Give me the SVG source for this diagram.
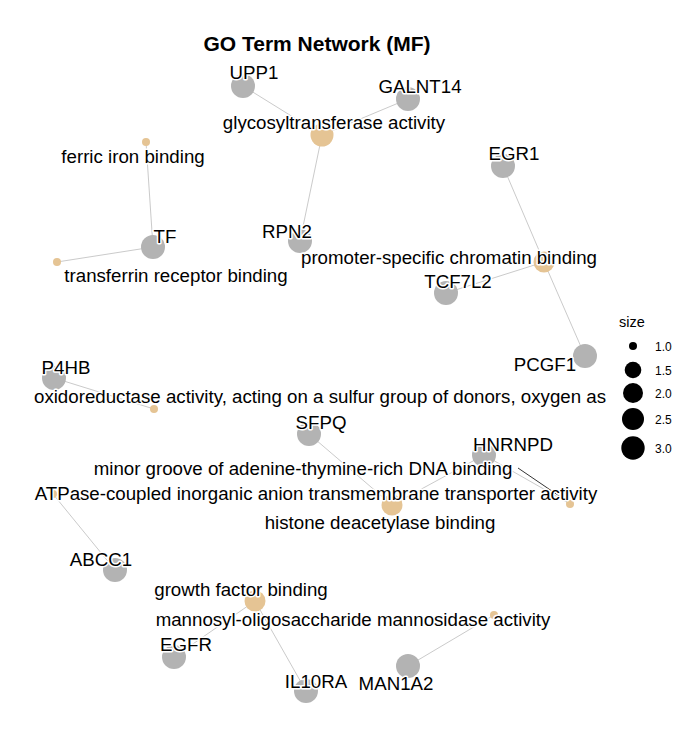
<svg xmlns="http://www.w3.org/2000/svg" width="700" height="750" viewBox="0 0 700 750">
<style>
text{font-family:"Liberation Sans",Arial,sans-serif;fill:#000}
.lbl{font-size:18.7px;text-anchor:middle;stroke:#fff;stroke-width:3px;paint-order:stroke;stroke-linejoin:round}
.gene{fill:#b3b3b3}
.term{fill:#e5c494}
.edge{stroke:#bdbdbd;stroke-width:0.8;fill:none}
.seg{stroke:#000;stroke-width:0.8}
.leg{font-size:12px}
</style>
<rect width="700" height="750" fill="#fff"/>
<text x="317" y="51" style="font-size:21px;font-weight:bold;text-anchor:middle">GO Term Network (MF)</text>
<g id="edges">
<line class="edge" x1="243" y1="86" x2="322" y2="135"/>
<line class="edge" x1="408" y1="99" x2="322" y2="135"/>
<line class="edge" x1="322" y1="135" x2="300" y2="241"/>
<line class="edge" x1="146" y1="142" x2="153" y2="247"/>
<line class="edge" x1="57" y1="262" x2="153" y2="247"/>
<line class="edge" x1="503" y1="166" x2="544" y2="262"/>
<line class="edge" x1="446" y1="293" x2="544" y2="262"/>
<line class="edge" x1="585" y1="356" x2="544" y2="262"/>
<line class="edge" x1="54" y1="378" x2="154" y2="409"/>
<line class="edge" x1="53" y1="494" x2="115" y2="570"/>
<line class="edge" x1="309" y1="434" x2="392" y2="505"/>
<line class="edge" x1="484" y1="455" x2="392" y2="505"/>
<line class="edge" x1="484" y1="455" x2="570" y2="504"/>
<line class="edge" x1="255" y1="601" x2="174" y2="657"/>
<line class="edge" x1="255" y1="601" x2="306" y2="691"/>
<line class="edge" x1="494" y1="615" x2="408" y2="666"/>
<line class="seg" x1="518" y1="468" x2="568" y2="502"/>
</g>
<g id="n-glyco"><circle class="term" cx="322" cy="135" r="11.5"/></g>
<g id="n-UPP1"><circle class="gene" cx="243" cy="86" r="12"/></g>
<g id="n-GALNT14"><circle class="gene" cx="408" cy="99" r="12"/></g>
<g id="n-RPN2"><circle class="gene" cx="300" cy="241" r="12"/></g>
<g id="n-ferric"><circle class="term" cx="146" cy="142" r="4"/></g>
<g id="n-transferrin"><circle class="term" cx="57" cy="262" r="4"/></g>
<g id="n-TF"><circle class="gene" cx="153" cy="247" r="12"/></g>
<g id="n-EGR1"><circle class="gene" cx="503" cy="166" r="12"/></g>
<g id="n-promoter"><circle class="term" cx="544" cy="262" r="10.5"/></g>
<g id="n-TCF7L2"><circle class="gene" cx="446" cy="293" r="12"/></g>
<g id="n-PCGF1"><circle class="gene" cx="585" cy="356" r="12"/></g>
<g id="n-P4HB"><circle class="gene" cx="54" cy="378" r="12"/></g>
<g id="n-oxido"><circle class="term" cx="154" cy="409" r="4"/></g>
<g id="n-ATPase"><circle class="term" cx="53" cy="494" r="4"/></g>
<g id="n-ABCC1"><circle class="gene" cx="115" cy="570" r="12"/></g>
<g id="n-SFPQ"><circle class="gene" cx="309" cy="434" r="12"/></g>
<g id="n-HNRNPD"><circle class="gene" cx="484" cy="455" r="12"/></g>
<g id="n-histone"><circle class="term" cx="392" cy="505" r="10.5"/></g>
<g id="n-minor"><circle class="term" cx="570" cy="504" r="4"/></g>
<g id="n-growth"><circle class="term" cx="255" cy="601" r="10.5"/></g>
<g id="n-mannosyl"><circle class="term" cx="494" cy="615" r="4"/></g>
<g id="n-EGFR"><circle class="gene" cx="174" cy="657" r="12"/></g>
<g id="n-IL10RA"><circle class="gene" cx="306" cy="691" r="12"/></g>
<g id="n-MAN1A2"><circle class="gene" cx="408" cy="666" r="12"/></g>
<g id="labels">
<text class="lbl" x="254" y="79">UPP1</text>
<text class="lbl" x="420" y="93">GALNT14</text>
<text class="lbl" x="334" y="129">glycosyltransferase activity</text>
<text class="lbl" x="133" y="163">ferric iron binding</text>
<text class="lbl" x="165" y="243">TF</text>
<text class="lbl" x="176" y="282">transferrin receptor binding</text>
<text class="lbl" x="287" y="238">RPN2</text>
<text class="lbl" x="514" y="160">EGR1</text>
<text class="lbl" x="449" y="264">promoter-specific chromatin binding</text>
<text class="lbl" x="458" y="288">TCF7L2</text>
<text class="lbl" x="545" y="371">PCGF1</text>
<text class="lbl" x="66" y="374">P4HB</text>
<text class="lbl" x="320" y="403">oxidoreductase activity, acting on a sulfur group of donors, oxygen as</text>
<text class="lbl" x="321" y="429">SFPQ</text>
<text class="lbl" x="513" y="451">HNRNPD</text>
<text class="lbl" x="303" y="475">minor groove of adenine-thymine-rich DNA binding</text>
<text class="lbl" x="316" y="500">ATPase-coupled inorganic anion transmembrane transporter activity</text>
<text class="lbl" x="380" y="529">histone deacetylase binding</text>
<text class="lbl" x="101" y="566">ABCC1</text>
<text class="lbl" x="241" y="596">growth factor binding</text>
<text class="lbl" x="353" y="626">mannosyl-oligosaccharide mannosidase activity</text>
<text class="lbl" x="186" y="651">EGFR</text>
<text class="lbl" x="316" y="688">IL10RA</text>
<text class="lbl" x="396" y="690">MAN1A2</text>
</g>
<g id="legend">
<text x="632" y="327" style="font-size:14.5px;text-anchor:middle">size</text>
<circle cx="633" cy="346" r="4"/>
<circle cx="633" cy="370" r="8.3"/>
<circle cx="633" cy="393" r="10"/>
<circle cx="633" cy="419" r="11"/>
<circle cx="633" cy="448" r="11.7"/>
<text class="leg" x="655" y="351">1.0</text>
<text class="leg" x="655" y="375">1.5</text>
<text class="leg" x="655" y="398">2.0</text>
<text class="leg" x="655" y="424">2.5</text>
<text class="leg" x="655" y="453">3.0</text>
</g>
</svg>
